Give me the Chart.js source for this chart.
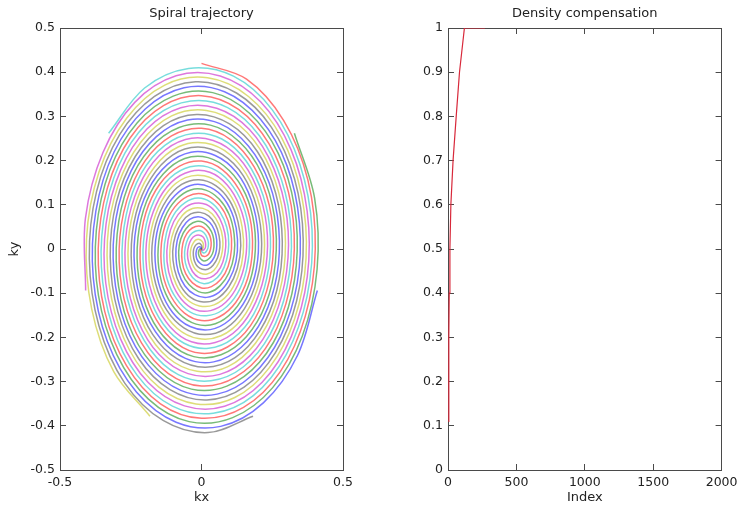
<!DOCTYPE html>
<html>
<head>
<meta charset="utf-8">
<script src="https://cdn.jsdelivr.net/npm/chart.js@4.4.1/dist/chart.umd.min.js"></script>
<style>
  html, body { margin: 0; padding: 0; background: #fff; }
  #wrap { position: relative; width: 749px; height: 505px; }
  canvas { position: absolute; top: 0; }
</style>
</head>
<body>
<div id="wrap">
  <canvas id="spiral" width="374" height="505" style="left:0"></canvas>
  <canvas id="dcf" width="375" height="505" style="left:374px"></canvas>
</div>
<script>
// --- left panel: spiral arms, radius read every 22.5 deg going outward (CCW)
const spiralRadius = [0, 0.005, 0.009, 0.014, 0.018, 0.023, 0.028, 0.032, 0.037, 0.042,
  0.046, 0.051, 0.055, 0.060, 0.065, 0.069, 0.074, 0.079, 0.083, 0.088,
  0.092, 0.097, 0.102, 0.106, 0.111, 0.116, 0.120, 0.125, 0.129, 0.134,
  0.139, 0.143, 0.148, 0.152, 0.157, 0.162, 0.166, 0.171, 0.176, 0.180,
  0.185, 0.189, 0.194, 0.199, 0.203, 0.208, 0.213, 0.217, 0.222, 0.226,
  0.231, 0.236, 0.240, 0.245, 0.249, 0.254, 0.259, 0.263, 0.268, 0.273,
  0.277, 0.282, 0.286, 0.291, 0.296, 0.300, 0.305, 0.310, 0.314, 0.319,
  0.323, 0.328, 0.333, 0.337, 0.342, 0.347, 0.351, 0.356, 0.360, 0.365,
  0.370, 0.374, 0.379, 0.383, 0.388, 0.393, 0.397, 0.402, 0.407, 0.411,
  0.416, 0.420];
const spiralStepDeg = 22.5;
const armStartDeg = [99.6, 151.1, 202.5, 253.9, 305.4, 356.8, 48.2];
// matlab colour order b g r c m y k
const armColors = ['#0000ff', '#008000', '#ff0000', '#00bfbf', '#bf00bf', '#bfbf00', '#404040'];

// --- right panel: density compensation
const dcfIndex = [3, 6, 9, 14, 21, 37, 60, 84, 120, 270];
const dcfValue = [0.11, 0.30, 0.40, 0.50, 0.60, 0.70, 0.80, 0.90, 1.00, 1.00];

// tick setup
const kxTicks = { min: -0.5, max: 0.5, step: 0.5 };
const kyTicks = { min: -0.5, max: 0.5, step: 0.1 };
const indexTicks = { min: 0, max: 2000, step: 500 };
const dcfTicks = { min: 0, max: 1, step: 0.1 };

Chart.defaults.font.family = '"DejaVu Sans", "Liberation Sans", sans-serif';
Chart.defaults.color = '#222';

const edge = '#4a4a4a';

// axis with inward ticks, fixed size so both plot boxes line up
function axis(position, t, size, showLabels, title, titlePad) {
  return {
    type: 'linear',
    position: position,
    min: t.min,
    max: t.max,
    ticks: {
      display: showLabels,
      stepSize: t.step,
      padding: position === 'bottom' ? 11.5 : 11,
      autoSkip: false,
      maxRotation: 0,
      color: '#222',
      font: { size: 12.5 },
      callback: (v) => String(Math.round(v * 100) / 100)  // no thousands comma, like matlab
    },
    grid: {
      drawOnChartArea: false,
      drawTicks: true,
      tickLength: -6,
      tickColor: edge
    },
    border: { display: true, color: edge, width: 1 },
    title: title ? {
      display: true,
      text: title,
      color: '#222',
      font: { size: 13 },
      padding: titlePad
    } : { display: false },
    afterFit: (s) => {
      if (s.isHorizontal()) s.height = size; else s.width = size;
    }
  };
}

// build spiral datasets from the polar samples
const spiralSets = armStartDeg.map((start, a) => {
  const pts = spiralRadius.map((r, j) => {
    const ang = (start + spiralStepDeg * j) * Math.PI / 180;
    return { x: r * Math.cos(ang), y: r * Math.sin(ang) };
  });
  return {
    data: pts,
    showLine: true,
    borderColor: armColors[a] + '88',
    borderWidth: 1.5,
    pointRadius: 0,
    tension: 0.34,
    fill: false
  };
});

new Chart(document.getElementById('spiral'), {
  type: 'scatter',
  data: { datasets: spiralSets },
  options: {
    responsive: false,
    animation: false,
    parsing: false,
    layout: { padding: 0 },
    plugins: { legend: { display: false }, tooltip: { enabled: false } },
    scales: {
      x: axis('bottom', kxTicks, 35, true, 'kx', { top: 0, bottom: 0 }),
      x2: axis('top', kxTicks, 28, false, 'Spiral trajectory', { top: 6, bottom: 0 }),
      y: axis('left', kyTicks, 60, true, 'ky', { top: 7, bottom: 0 }),
      y2: axis('right', kyTicks, 31, false)
    }
  }
});

new Chart(document.getElementById('dcf'), {
  type: 'scatter',
  data: {
    datasets: [{
      data: dcfIndex.map((x, i) => ({ x: x, y: dcfValue[i] })),
      showLine: true,
      borderColor: '#d8283a',
      borderWidth: 1.2,
      pointRadius: 0,
      tension: 0,
      fill: false
    }]
  },
  options: {
    responsive: false,
    animation: false,
    layout: { padding: 0 },
    plugins: { legend: { display: false }, tooltip: { enabled: false } },
    scales: {
      x: axis('bottom', indexTicks, 35, true, 'Index', { top: 0, bottom: 0 }),
      x2: axis('top', indexTicks, 28, false, 'Density compensation', { top: 6, bottom: 0 }),
      y: axis('left', dcfTicks, 74, true),
      y2: axis('right', dcfTicks, 18, false)
    }
  }
});
</script>
</body>
</html>
